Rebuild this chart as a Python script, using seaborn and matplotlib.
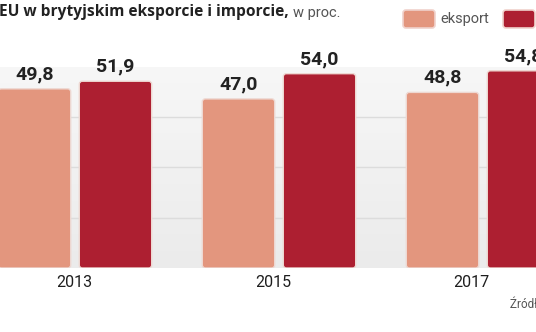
import numpy as np
import pandas as pd
import matplotlib
matplotlib.use('Agg')
import matplotlib.pyplot as plt
import matplotlib.transforms as mtransforms
from matplotlib.colors import LinearSegmentedColormap
from matplotlib.patches import FancyBboxPatch
import seaborn as sns

# ---- data ----
years = ['2013', '2015', '2017']
eksport = [49.8, 47.0, 48.8]
imports = [51.9, 54.0, 54.8]
series = ['eksport', 'import']
colors = ['#E3967E', '#AD1F31']
title_bold = 'EU w brytyjskim eksporcie i imporcie,'
title_reg = 'w proc.'
source_txt = 'Źródło: Eurostat'

df = pd.DataFrame({
    'rok': years * 2,
    'seria': [series[0]] * len(years) + [series[1]] * len(years),
    'wartosc': eksport + imports,
})

sns.set_theme(style='white')
plt.rcParams['font.family'] = ['Roboto', 'DejaVu Sans']

W, H = 536, 332
fig = plt.figure(figsize=(W / 100, H / 100), dpi=100)
fig.patch.set_facecolor('white')
ax = fig.add_axes([0, 64 / H, 1, (268 - 66.5) / H])
ax.set_facecolor('none')

# background gradient
grad = np.linspace(0, 1, 256).reshape(-1, 1)
cmap = LinearSegmentedColormap.from_list('bg', ['#f7f7f7', '#ebebeb'])
ax.imshow(grad, extent=[0, 1, 0, 1], transform=ax.transAxes, aspect='auto',
          cmap=cmap, zorder=0, interpolation='bilinear')

sns.barplot(data=df, x='rok', y='wartosc', hue='seria', palette=colors,
            width=0.794, gap=0.106, saturation=1, legend=False, ax=ax,
            zorder=3)

ax.set_xlim(-75 / 204, (W - 75) / 204)
ax.set_ylim(0, 56)
ax.set_yticks([14, 28, 42])
ax.yaxis.grid(True, color='#dcdcdc', lw=1)
ax.set_axisbelow(True)
for s in ax.spines.values():
    s.set_visible(False)
ax.tick_params(axis='y', length=0, labelleft=False)
ax.tick_params(axis='x', length=0, pad=5, labelsize=11.5, labelcolor='#1e1e1e')
ax.set_xlabel('')
ax.set_ylabel('')

# year labels sit slightly left of the group centres in the reference
for lab, dx in zip(ax.get_xticklabels(), [-1, -6, -12]):
    lab.set_transform(lab.get_transform() +
                      mtransforms.ScaledTranslation(dx / 100, 0, fig.dpi_scale_trans))

vals_by_series = [eksport, imports]
for cont, vals in zip(ax.containers, vals_by_series):
    ax.bar_label(cont, labels=[f'{v:.1f}'.replace('.', ',') for v in vals],
                 padding=4, fontsize=14, fontweight='bold', color='#222222')
    for p in cont.patches:
        x, y = p.get_x(), p.get_y()
        w, h = p.get_width(), p.get_height()
        fc = p.get_facecolor()
        p.set_visible(False)
        rs = 3 / 204
        fb = FancyBboxPatch((x, y), w, h,
                            boxstyle=f'round,pad=0,rounding_size={rs}',
                            mutation_aspect=(3 / 3.6) / rs,
                            facecolor=fc, edgecolor='#eed8d2', lw=1.0,
                            zorder=3)
        ax.add_patch(fb)

# title
t1 = fig.text(-0.002, 1 - 16 / H, title_bold, fontsize=11.2, fontweight='bold',
              family=['Open Sans', 'Roboto'], color='#222222',
              ha='left', va='baseline')
ax.annotate(title_reg, xy=(1, 0), xycoords=t1, xytext=(3, 0),
            textcoords='offset points', fontsize=10.5,
            color='#555555', ha='left', va='bottom', annotation_clip=False)

# legend (pixel coords, from bottom)
pix = mtransforms.Affine2D().scale(1 / W, 1 / H) + fig.transFigure
for x0, c in [(403, colors[0]), (503, colors[1])]:
    sw = FancyBboxPatch((x0, H - 28), 32, 18,
                        boxstyle='round,pad=0,rounding_size=3',
                        facecolor=c, edgecolor='#f0d2cc', lw=1.2,
                        transform=pix)
    fig.patches.append(sw)
fig.text(440 / W, 1 - 19 / H, series[0], fontsize=10.5, color='#555555',
         ha='left', va='center')
fig.text(540 / W, 1 - 19 / H, series[1], fontsize=10.5, color='#555555',
         ha='left', va='center')

fig.text(510 / W, 1 - 305 / H, source_txt, fontsize=8.5, color='#555555',
         ha='left', va='center')

fig.savefig('out.png', dpi=100)
